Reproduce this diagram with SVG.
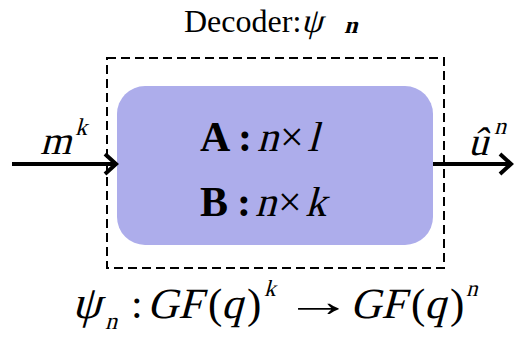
<svg xmlns="http://www.w3.org/2000/svg" width="514" height="338" viewBox="0 0 514 338">
<style>
.t{font-family:"Liberation Serif","Times New Roman",serif;fill:#000}
.b{font-weight:bold}
.arr{stroke:#000;stroke-width:4;fill:none}
</style>
<defs>
<marker id="ah" markerWidth="16" markerHeight="26" refX="13" refY="13" orient="auto" markerUnits="userSpaceOnUse">
<path d="M2,3 L13,13 L2,23" fill="none" stroke="#000" stroke-width="4" stroke-linejoin="miter"/>
</marker>
</defs>
<rect width="514" height="338" fill="#fff"/>
<g id="decoder">
<rect x="107" y="58" width="337" height="210" fill="none" stroke="#000" stroke-width="2" stroke-dasharray="9,5"/>
<rect x="117" y="86" width="316" height="159" rx="28" fill="#adadeb"/>
<text class="t" x="184" y="32" font-size="32">Decoder:</text>
<text class="t" transform="translate(301,32) skewX(-15)" font-size="34">ψ</text>
<text class="t b" transform="translate(344,33) skewX(-15)" font-size="24">n</text>
<text class="t b" x="200" y="151" font-size="42">A</text>
<text class="t b" x="238" y="151" font-size="42">:</text>
<text class="t" transform="translate(257,151) skewX(-15)" font-size="42">n</text>
<text class="t" x="280" y="151" font-size="42">×</text>
<text class="t" transform="translate(307,151) skewX(-15)" font-size="42">l</text>
<text class="t b" x="200" y="216" font-size="42">B</text>
<text class="t b" x="237" y="216" font-size="42">:</text>
<text class="t" transform="translate(255,216) skewX(-15)" font-size="42">n</text>
<text class="t" x="278" y="216" font-size="42">×</text>
<text class="t" transform="translate(305,216) skewX(-15)" font-size="42">k</text>
</g>
<g id="connectors">
<line class="arr" x1="12" y1="164" x2="116" y2="164" marker-end="url(#ah)"/>
<line class="arr" x1="433" y1="164" x2="511" y2="164" marker-end="url(#ah)"/>
</g>
<g id="labels">
<text class="t" transform="translate(40,154) skewX(-15)" font-size="40">m</text>
<text class="t" transform="translate(75,135) skewX(-15)" font-size="24">k</text>
<text class="t" transform="translate(468,155) skewX(-15)" font-size="40">û</text>
<text class="t" transform="translate(494,134) skewX(-15)" font-size="24">n</text>
<text class="t" transform="translate(72,318) skewX(-15)" font-size="46">ψ</text>
<text class="t" transform="translate(105,329) skewX(-15)" font-size="24">n</text>
<text class="t" x="131" y="318" font-size="42">:</text>
<text class="t" transform="translate(147,318) skewX(-15)" font-size="43">GF</text>
<text class="t" x="208" y="318" font-size="43">(</text>
<text class="t" transform="translate(221,318) skewX(-15)" font-size="43">q</text>
<text class="t" x="247" y="318" font-size="43">)</text>
<text class="t" transform="translate(264,296) skewX(-15)" font-size="23">k</text>
<text class="t" transform="translate(284,316) scale(1.6,1)" font-size="43">→</text>
<text class="t" transform="translate(350,318) skewX(-15)" font-size="43">GF</text>
<text class="t" x="411" y="318" font-size="43">(</text>
<text class="t" transform="translate(424,318) skewX(-15)" font-size="43">q</text>
<text class="t" x="450" y="318" font-size="43">)</text>
<text class="t" transform="translate(466,296) skewX(-15)" font-size="23">n</text>
</g>
</svg>
